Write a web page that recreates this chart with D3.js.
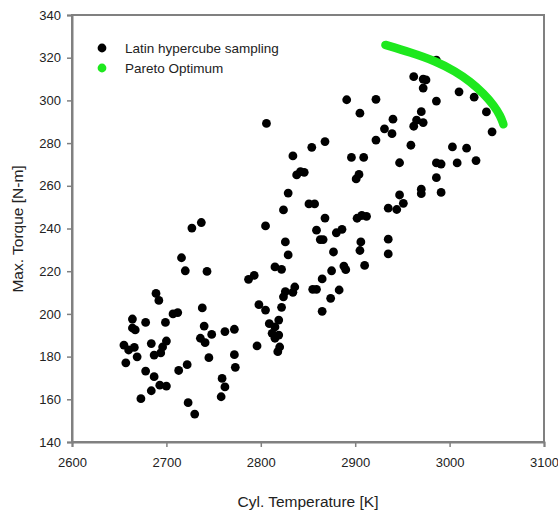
<!DOCTYPE html>
<html><head><meta charset="utf-8">
<script src="https://cdn.jsdelivr.net/npm/d3@7"></script>
<style>body{margin:0;background:#fff}svg{display:block}text{font-family:"Liberation Sans",Arial,sans-serif;fill:#222}</style>
</head><body>
<svg id="c" width="558" height="513"></svg>
<script>
const xTicks=[2600,2700,2800,2900,3000,3100];
const yTicks=[140,160,180,200,220,240,260,280,300,320,340];
const seriesNames=["Latin hypercube sampling","Pareto Optimum"];
const lhsTemp=[2655,2657,2660,2664,2664,2667,2666,2669,2673,2678,2678,2684,2687,2684,2687,2689,2692,2693,2694,2696,2700,2699,2700,2707,2712,2713,2716,2720,2722,2723,2727,2737,2730,2738,2740,2736,2741,2745,2743,2748,2758,2759,2762,2762,2772,2772,2773,2787,2793,2796,2798,2805,2805,2806,2809,2815,2819,2812,2819,2815,2820,2818,2822,2824,2826,2834,2836,2815,2822,2829,2826,2824,2829,2834,2838,2842,2846,2851,2857,2854,2868,2868,2859,2863,2866,2880,2886,2877,2855,2859,2865,2875,2888,2890,2883,2874,2865,2891,2905,2896,2909,2901,2904,2902,2907,2912,2906,2905,2910,2922,2922,2931,2940,2939,2947,2947,2951,2935,2944,2935,2935,2962,2972,2975,2972,2986,2986,2970,2965,2972,2962,2959,2986,2991,2986,2970,2970,2991,3003,3018,3008,3028,3010,3026,3039,3045];
const lhsTorque=[185.4,177.1,183.1,197.6,193.4,192.5,184.3,179.9,160.3,196.0,173.2,186.1,180.7,164.0,170.6,209.6,206.3,166.6,181.7,184.5,187.3,196.0,166.2,200.0,200.6,173.5,226.3,220.2,176.2,158.4,240.2,242.8,153.1,202.8,194.3,188.6,186.5,179.5,219.9,190.4,161.2,169.8,165.8,191.7,192.8,180.9,175.0,216.2,218.0,185.0,204.3,201.8,241.2,289.2,195.4,193.9,197.1,190.9,190.1,188.6,184.5,182.3,203.1,208.0,210.4,210.1,212.6,222.0,220.9,227.6,233.7,248.7,256.6,274.0,265.1,266.6,266.3,251.5,251.5,278.0,280.7,244.9,239.2,234.8,234.8,238.0,239.6,229.0,211.5,211.5,216.4,220.2,222.4,220.7,211.2,207.3,201.2,300.3,294.0,273.3,273.3,263.2,265.3,244.8,246.1,245.7,233.7,229.7,222.7,300.5,281.4,286.7,291.2,284.4,270.8,255.7,251.8,249.5,248.9,235.0,228.1,311.1,310.0,309.6,305.8,318.9,299.7,294.7,290.8,289.6,287.9,279.0,270.7,270.2,263.8,258.4,256.3,256.9,278.2,277.6,270.7,271.8,304.0,301.5,294.6,285.3];
const paretoTemp=[2932,2958,2986,3006,3022,3036,3047,3054,3057];
const paretoTorque=[326.0,322.6,318.3,313.6,308.8,303.2,297.6,292.6,288.8];

const svg=d3.select("#c");
const x=d3.scaleLinear().domain([2600,3100]).range([72,544]);
const y=d3.scaleLinear().domain([140,340]).range([442,15]);
const axisColor="#808080";

svg.append("rect").attr("x",72).attr("y",15).attr("width",472).attr("height",427)
  .attr("fill","none").attr("stroke",axisColor).attr("stroke-width",2);

const gx=svg.append("g").attr("transform","translate(0,442)")
  .call(d3.axisBottom(x).tickValues(xTicks).tickFormat(d3.format("d")).tickSize(5).tickPadding(11));
const gy=svg.append("g").attr("transform","translate(72,0)")
  .call(d3.axisLeft(y).tickValues(yTicks).tickFormat(d3.format("d")).tickSize(5).tickPadding(6));
[gx,gy].forEach(g=>{
  g.select(".domain").attr("stroke",axisColor).attr("stroke-width",2);
  g.selectAll(".tick line").attr("stroke",axisColor).attr("stroke-width",1.5);
  g.selectAll(".tick text").attr("font-size",13).attr("font-family","Liberation Sans, Arial, sans-serif").attr("fill","#333");
});

svg.append("g").selectAll("circle").data(lhsTemp.map((t,i)=>[t,lhsTorque[i]])).join("circle")
  .attr("cx",d=>x(d[0])).attr("cy",d=>y(d[1])).attr("r",4.4).attr("fill","#000");

svg.append("path").datum(paretoTemp.map((t,i)=>[t,paretoTorque[i]]))
  .attr("d",d3.line().x(d=>x(d[0])).y(d=>y(d[1])).curve(d3.curveBasis))
  .attr("fill","none").attr("stroke","#1ee81e").attr("stroke-width",8.5).attr("stroke-linecap","round");

const leg=svg.append("g");
const legColors=["#000","#1ee81e"];
seriesNames.forEach((n,i)=>{
  leg.append("circle").attr("cx",102).attr("cy",48+i*20).attr("r",4.4).attr("fill",legColors[i]);
  leg.append("text").attr("x",125).attr("y",48+i*20).attr("dy","0.35em").attr("font-size",13.5).text(n);
});

svg.append("text").attr("x",308).attr("y",502).attr("dy","0.35em").attr("text-anchor","middle")
  .attr("font-size",15.5).text("Cyl. Temperature [K]");
svg.append("text").attr("transform","translate(18,229) rotate(-90)").attr("dy","0.35em").attr("text-anchor","middle")
  .attr("font-size",15.5).text("Max. Torque [N-m]");
</script>
</body></html>
